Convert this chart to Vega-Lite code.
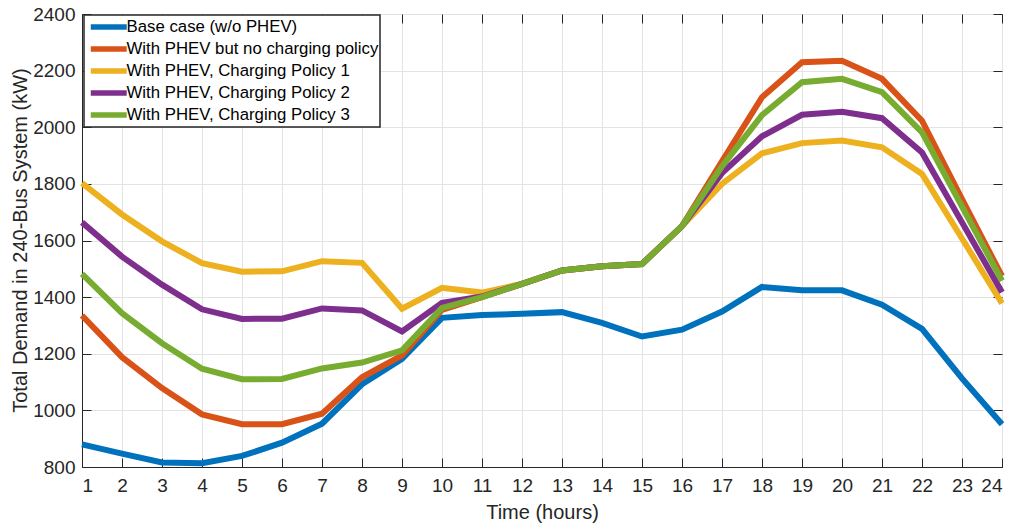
{
  "$schema": "https://vega.github.io/schema/vega-lite/v6.json",
  "autosize": "none",
  "width": 920,
  "height": 453,
  "padding": {"left": 82, "top": 14, "right": 16, "bottom": 57},
  "background": "white",
  "config": {
    "font": "Liberation Sans",
    "view": {"stroke": "#262626", "strokeWidth": 1},
    "legend": {"strokeWidth": 1.5},
    "axis": {
      "labelFont": "Liberation Sans",
      "titleFont": "Liberation Sans",
      "labelColor": "#262626",
      "titleColor": "#262626",
      "domainColor": "#262626",
      "tickColor": "#262626",
      "gridColor": "#e3e3e3",
      "gridWidth": 1,
      "titleFontWeight": "normal"
    }
  },
  "data": {
    "values": [
      {"hour": 1, "series": "Base case (w/o PHEV)", "demand": 880},
      {"hour": 2, "series": "Base case (w/o PHEV)", "demand": 847},
      {"hour": 3, "series": "Base case (w/o PHEV)", "demand": 816},
      {"hour": 4, "series": "Base case (w/o PHEV)", "demand": 813},
      {"hour": 5, "series": "Base case (w/o PHEV)", "demand": 839},
      {"hour": 6, "series": "Base case (w/o PHEV)", "demand": 886},
      {"hour": 7, "series": "Base case (w/o PHEV)", "demand": 953},
      {"hour": 8, "series": "Base case (w/o PHEV)", "demand": 1092},
      {"hour": 9, "series": "Base case (w/o PHEV)", "demand": 1182},
      {"hour": 10, "series": "Base case (w/o PHEV)", "demand": 1327},
      {"hour": 11, "series": "Base case (w/o PHEV)", "demand": 1337},
      {"hour": 12, "series": "Base case (w/o PHEV)", "demand": 1341},
      {"hour": 13, "series": "Base case (w/o PHEV)", "demand": 1347},
      {"hour": 14, "series": "Base case (w/o PHEV)", "demand": 1309},
      {"hour": 15, "series": "Base case (w/o PHEV)", "demand": 1261},
      {"hour": 16, "series": "Base case (w/o PHEV)", "demand": 1285},
      {"hour": 17, "series": "Base case (w/o PHEV)", "demand": 1349},
      {"hour": 18, "series": "Base case (w/o PHEV)", "demand": 1436},
      {"hour": 19, "series": "Base case (w/o PHEV)", "demand": 1424},
      {"hour": 20, "series": "Base case (w/o PHEV)", "demand": 1424},
      {"hour": 21, "series": "Base case (w/o PHEV)", "demand": 1373},
      {"hour": 22, "series": "Base case (w/o PHEV)", "demand": 1288},
      {"hour": 23, "series": "Base case (w/o PHEV)", "demand": 1113},
      {"hour": 24, "series": "Base case (w/o PHEV)", "demand": 951},

      {"hour": 1, "series": "With PHEV but no charging policy", "demand": 1335},
      {"hour": 2, "series": "With PHEV but no charging policy", "demand": 1188},
      {"hour": 3, "series": "With PHEV but no charging policy", "demand": 1079},
      {"hour": 4, "series": "With PHEV but no charging policy", "demand": 986},
      {"hour": 5, "series": "With PHEV but no charging policy", "demand": 951},
      {"hour": 6, "series": "With PHEV but no charging policy", "demand": 951},
      {"hour": 7, "series": "With PHEV but no charging policy", "demand": 988},
      {"hour": 8, "series": "With PHEV but no charging policy", "demand": 1117},
      {"hour": 9, "series": "With PHEV but no charging policy", "demand": 1194},
      {"hour": 10, "series": "With PHEV but no charging policy", "demand": 1355},
      {"hour": 11, "series": "With PHEV but no charging policy", "demand": 1400},
      {"hour": 12, "series": "With PHEV but no charging policy", "demand": 1447},
      {"hour": 13, "series": "With PHEV but no charging policy", "demand": 1494},
      {"hour": 14, "series": "With PHEV but no charging policy", "demand": 1509},
      {"hour": 15, "series": "With PHEV but no charging policy", "demand": 1517},
      {"hour": 16, "series": "With PHEV but no charging policy", "demand": 1651},
      {"hour": 17, "series": "With PHEV but no charging policy", "demand": 1880},
      {"hour": 18, "series": "With PHEV but no charging policy", "demand": 2106},
      {"hour": 19, "series": "With PHEV but no charging policy", "demand": 2230},
      {"hour": 20, "series": "With PHEV but no charging policy", "demand": 2235},
      {"hour": 21, "series": "With PHEV but no charging policy", "demand": 2171},
      {"hour": 22, "series": "With PHEV but no charging policy", "demand": 2023},
      {"hour": 23, "series": "With PHEV but no charging policy", "demand": 1746},
      {"hour": 24, "series": "With PHEV but no charging policy", "demand": 1474},

      {"hour": 1, "series": "With PHEV, Charging Policy 1", "demand": 1803},
      {"hour": 2, "series": "With PHEV, Charging Policy 1", "demand": 1692},
      {"hour": 3, "series": "With PHEV, Charging Policy 1", "demand": 1597},
      {"hour": 4, "series": "With PHEV, Charging Policy 1", "demand": 1520},
      {"hour": 5, "series": "With PHEV, Charging Policy 1", "demand": 1490},
      {"hour": 6, "series": "With PHEV, Charging Policy 1", "demand": 1491},
      {"hour": 7, "series": "With PHEV, Charging Policy 1", "demand": 1527},
      {"hour": 8, "series": "With PHEV, Charging Policy 1", "demand": 1521},
      {"hour": 9, "series": "With PHEV, Charging Policy 1", "demand": 1359},
      {"hour": 10, "series": "With PHEV, Charging Policy 1", "demand": 1433},
      {"hour": 11, "series": "With PHEV, Charging Policy 1", "demand": 1416},
      {"hour": 12, "series": "With PHEV, Charging Policy 1", "demand": 1447},
      {"hour": 13, "series": "With PHEV, Charging Policy 1", "demand": 1494},
      {"hour": 14, "series": "With PHEV, Charging Policy 1", "demand": 1509},
      {"hour": 15, "series": "With PHEV, Charging Policy 1", "demand": 1517},
      {"hour": 16, "series": "With PHEV, Charging Policy 1", "demand": 1651},
      {"hour": 17, "series": "With PHEV, Charging Policy 1", "demand": 1800},
      {"hour": 18, "series": "With PHEV, Charging Policy 1", "demand": 1908},
      {"hour": 19, "series": "With PHEV, Charging Policy 1", "demand": 1944},
      {"hour": 20, "series": "With PHEV, Charging Policy 1", "demand": 1953},
      {"hour": 21, "series": "With PHEV, Charging Policy 1", "demand": 1929},
      {"hour": 22, "series": "With PHEV, Charging Policy 1", "demand": 1835},
      {"hour": 23, "series": "With PHEV, Charging Policy 1", "demand": 1607},
      {"hour": 24, "series": "With PHEV, Charging Policy 1", "demand": 1378},

      {"hour": 1, "series": "With PHEV, Charging Policy 2", "demand": 1664},
      {"hour": 2, "series": "With PHEV, Charging Policy 2", "demand": 1543},
      {"hour": 3, "series": "With PHEV, Charging Policy 2", "demand": 1444},
      {"hour": 4, "series": "With PHEV, Charging Policy 2", "demand": 1357},
      {"hour": 5, "series": "With PHEV, Charging Policy 2", "demand": 1323},
      {"hour": 6, "series": "With PHEV, Charging Policy 2", "demand": 1324},
      {"hour": 7, "series": "With PHEV, Charging Policy 2", "demand": 1360},
      {"hour": 8, "series": "With PHEV, Charging Policy 2", "demand": 1353},
      {"hour": 9, "series": "With PHEV, Charging Policy 2", "demand": 1279},
      {"hour": 10, "series": "With PHEV, Charging Policy 2", "demand": 1380},
      {"hour": 11, "series": "With PHEV, Charging Policy 2", "demand": 1402},
      {"hour": 12, "series": "With PHEV, Charging Policy 2", "demand": 1447},
      {"hour": 13, "series": "With PHEV, Charging Policy 2", "demand": 1494},
      {"hour": 14, "series": "With PHEV, Charging Policy 2", "demand": 1509},
      {"hour": 15, "series": "With PHEV, Charging Policy 2", "demand": 1517},
      {"hour": 16, "series": "With PHEV, Charging Policy 2", "demand": 1651},
      {"hour": 17, "series": "With PHEV, Charging Policy 2", "demand": 1838},
      {"hour": 18, "series": "With PHEV, Charging Policy 2", "demand": 1968},
      {"hour": 19, "series": "With PHEV, Charging Policy 2", "demand": 2044},
      {"hour": 20, "series": "With PHEV, Charging Policy 2", "demand": 2055},
      {"hour": 21, "series": "With PHEV, Charging Policy 2", "demand": 2032},
      {"hour": 22, "series": "With PHEV, Charging Policy 2", "demand": 1911},
      {"hour": 23, "series": "With PHEV, Charging Policy 2", "demand": 1664},
      {"hour": 24, "series": "With PHEV, Charging Policy 2", "demand": 1417},

      {"hour": 1, "series": "With PHEV, Charging Policy 3", "demand": 1482},
      {"hour": 2, "series": "With PHEV, Charging Policy 3", "demand": 1343},
      {"hour": 3, "series": "With PHEV, Charging Policy 3", "demand": 1237},
      {"hour": 4, "series": "With PHEV, Charging Policy 3", "demand": 1147},
      {"hour": 5, "series": "With PHEV, Charging Policy 3", "demand": 1110},
      {"hour": 6, "series": "With PHEV, Charging Policy 3", "demand": 1111},
      {"hour": 7, "series": "With PHEV, Charging Policy 3", "demand": 1148},
      {"hour": 8, "series": "With PHEV, Charging Policy 3", "demand": 1169},
      {"hour": 9, "series": "With PHEV, Charging Policy 3", "demand": 1212},
      {"hour": 10, "series": "With PHEV, Charging Policy 3", "demand": 1362},
      {"hour": 11, "series": "With PHEV, Charging Policy 3", "demand": 1400},
      {"hour": 12, "series": "With PHEV, Charging Policy 3", "demand": 1447},
      {"hour": 13, "series": "With PHEV, Charging Policy 3", "demand": 1494},
      {"hour": 14, "series": "With PHEV, Charging Policy 3", "demand": 1509},
      {"hour": 15, "series": "With PHEV, Charging Policy 3", "demand": 1517},
      {"hour": 16, "series": "With PHEV, Charging Policy 3", "demand": 1651},
      {"hour": 17, "series": "With PHEV, Charging Policy 3", "demand": 1862},
      {"hour": 18, "series": "With PHEV, Charging Policy 3", "demand": 2043},
      {"hour": 19, "series": "With PHEV, Charging Policy 3", "demand": 2159},
      {"hour": 20, "series": "With PHEV, Charging Policy 3", "demand": 2171},
      {"hour": 21, "series": "With PHEV, Charging Policy 3", "demand": 2124},
      {"hour": 22, "series": "With PHEV, Charging Policy 3", "demand": 1982},
      {"hour": 23, "series": "With PHEV, Charging Policy 3", "demand": 1720},
      {"hour": 24, "series": "With PHEV, Charging Policy 3", "demand": 1458}
    ]
  },
  "layer": [
    {
      "mark": {"type": "point", "opacity": 0},
      "encoding": {
        "x": {
          "field": "hour", "type": "quantitative",
          "scale": {"domain": [1, 24], "nice": false, "zero": false},
          "axis": {
            "orient": "top", "values": [1,2,3,4,5,6,7,8,9,10,11,12,13,14,15,16,17,18,19,20,21,22,23,24],
            "labels": false, "title": null, "domain": false, "grid": false,
            "tickSize": -9, "tickWidth": 1
          }
        },
        "y": {
          "field": "demand", "type": "quantitative",
          "scale": {"domain": [800, 2400], "nice": false, "zero": false},
          "axis": {
            "orient": "right", "values": [800,1000,1200,1400,1600,1800,2000,2200,2400],
            "labels": false, "title": null, "domain": false, "grid": false,
            "tickSize": -9, "tickWidth": 1
          }
        }
      }
    },
    {
      "mark": {"type": "line", "strokeWidth": 6, "strokeJoin": "miter"},
      "encoding": {
        "x": {
          "field": "hour", "type": "quantitative",
          "scale": {"domain": [1, 24], "nice": false, "zero": false},
          "axis": {
            "orient": "bottom",
            "values": [1,2,3,4,5,6,7,8,9,10,11,12,13,14,15,16,17,18,19,20,21,22,23,24],
            "format": "d",
            "title": "Time (hours)",
            "titleFontSize": 20,
            "titleY": 45,
            "titleBaseline": "middle",
            "labelFontSize": 19,
            "labelPadding": 18,
            "tickSize": -9,
            "grid": true
          }
        },
        "y": {
          "field": "demand", "type": "quantitative",
          "scale": {"domain": [800, 2400], "nice": false, "zero": false},
          "axis": {
            "orient": "left",
            "values": [800,1000,1200,1400,1600,1800,2000,2200,2400],
            "format": "d",
            "title": "Total Demand in 240-Bus System (kW)",
            "titleFontSize": 20,
            "titleX": -62,
            "titleY": 226,
            "titleBaseline": "middle",
            "labelFontSize": 19,
            "labelPadding": 16,
            "tickSize": -9,
            "grid": true
          }
        },
        "color": {
          "field": "series", "type": "nominal",
          "scale": {
            "domain": ["Base case (w/o PHEV)", "With PHEV but no charging policy", "With PHEV, Charging Policy 1", "With PHEV, Charging Policy 2", "With PHEV, Charging Policy 3"],
            "range": ["#0072BD", "#D95319", "#EDB120", "#7E2F8E", "#77AC30"]
          },
          "legend": {
            "orient": "none",
            "legendX": 2,
            "legendY": 1,
            "title": null,
            "fillColor": "white",
            "strokeColor": "#262626",
            "padding": 1,
            "symbolType": "M-2.18,0H2.18",
            "symbolSize": 272,
            "symbolOffset": 12.75,
            "symbolStrokeWidth": 5.5,
            "symbolOpacity": 1,
            "labelFont": "Liberation Sans",
            "labelFontSize": 16.8,
            "labelColor": "#000000",
            "labelOffset": 6.75,
            "labelLimit": 400,
            "rowPadding": 0
          }
        }
      }
    }
  ],
  "resolve": {"axis": {"x": "independent", "y": "independent"}}
}
